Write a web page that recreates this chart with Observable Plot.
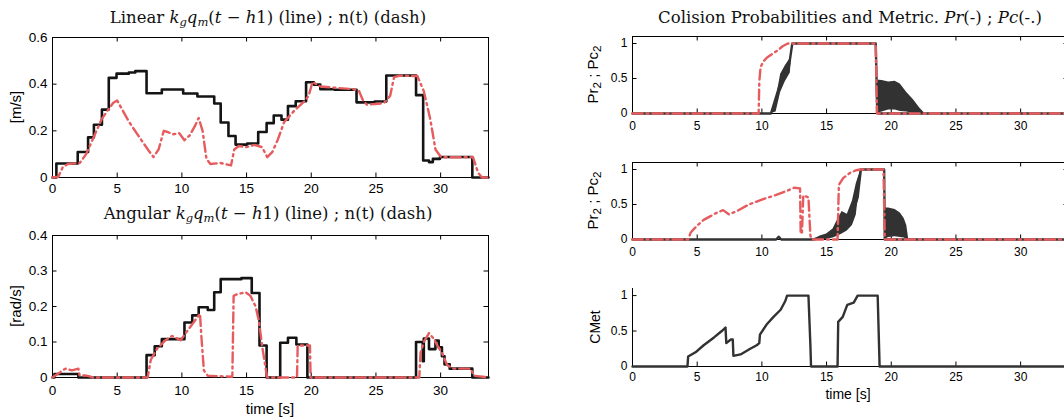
<!DOCTYPE html>
<html><head><meta charset="utf-8">
<script src="https://cdn.jsdelivr.net/npm/d3@7"></script>
<script src="https://cdn.jsdelivr.net/npm/@observablehq/plot@0.6"></script>
<style>
html,body{margin:0;padding:0;background:#fff;overflow:hidden;width:1064px;height:418px}
#root{position:relative;width:1064px;height:418px;overflow:hidden}
.p{position:absolute}
.title{position:absolute;font-family:"DejaVu Serif","Liberation Serif",serif;font-size:16.5px;white-space:nowrap;transform:translate(-50%,-50%);color:#111;line-height:1}
.title sub{font-size:11.5px;vertical-align:-3px}
</style></head><body><div id="root"></div>
<script>
// ---------- data (time [s], value) ----------
const xTicks = [0, 5, 10, 15, 20, 25, 30];
const linYTicks = [0, 0.2, 0.4, 0.6];
const angYTicks = [0, 0.1, 0.2, 0.3, 0.4];
const probYTicks = [0, 0.5, 1];

// Linear: k_g q_m(t-h1) (step, black) and n(t) (dash-dot, red)
const linCmd = [[0,0],[0.3,0.06],[1.95,0.109],[2.75,0.172],[3.2,0.226],[3.82,0.291],[4.35,0.427],[4.95,0.445],[5.9,0.45],[6.4,0.456],[7.27,0.361],[8.45,0.377],[10.1,0.36],[11.2,0.347],[12.5,0.317],[13.0,0.236],[13.6,0.178],[14.15,0.141],[15.05,0.146],[15.9,0.195],[16.55,0.233],[17.1,0.266],[17.7,0.248],[18.2,0.306],[18.8,0.327],[19.6,0.408],[20.2,0.398],[20.7,0.378],[21.8,0.376],[23.5,0.322],[24.9,0.326],[25.8,0.437],[28.1,0.353],[28.65,0.073],[29.1,0.066],[29.4,0.08],[29.95,0.088],[32.45,0],[33.7,0]];
const linN = [[0,0],[0.45,0.003],[0.8,0.045],[1.2,0.058],[2.1,0.062],[2.6,0.1],[3.0,0.15],[3.4,0.2],[3.8,0.25],[4.3,0.29],[4.7,0.32],[5.0,0.33],[5.4,0.29],[5.9,0.24],[6.5,0.19],[7.0,0.15],[7.5,0.11],[7.8,0.088],[8.2,0.12],[8.6,0.2],[8.9,0.195],[9.3,0.185],[9.8,0.19],[10.2,0.16],[10.6,0.18],[11.0,0.22],[11.3,0.255],[11.6,0.2],[11.9,0.08],[12.2,0.058],[13.0,0.062],[13.8,0.052],[14.05,0.12],[14.4,0.135],[15.0,0.13],[15.6,0.14],[16.2,0.13],[16.6,0.087],[17.0,0.11],[17.4,0.16],[17.9,0.237],[18.7,0.287],[19.4,0.323],[19.8,0.35],[20.1,0.41],[20.7,0.39],[23.3,0.378],[23.7,0.37],[24.0,0.33],[24.3,0.312],[25.6,0.318],[26.1,0.35],[26.4,0.43],[26.8,0.436],[28.2,0.435],[28.7,0.37],[29.2,0.25],[29.6,0.12],[30.0,0.09],[30.3,0.087],[32.5,0.087],[32.9,0.02],[33.2,0],[33.7,0]];

// Angular
const angCmd = [[0,0],[0.15,0.01],[2.0,0],[7.27,0.063],[7.9,0.088],[8.45,0.108],[10.2,0.155],[10.8,0.175],[11.3,0.198],[12.0,0.19],[12.5,0.24],[13.0,0.277],[14.2,0.277],[14.6,0.28],[15.4,0.238],[16.0,0.09],[16.55,0],[17.6,0.098],[18.2,0.112],[18.85,0.093],[19.7,0],[28.1,0.1],[28.62,0.046],[28.7,0.11],[29.1,0.08],[29.6,0.104],[29.85,0.085],[30.1,0.06],[30.3,0.037],[30.7,0.025],[32.45,0],[33.7,0]];
const angN = [[0,0],[0.3,0.008],[0.6,0.015],[1.0,0.025],[1.5,0.02],[2.0,0.025],[2.1,0.005],[2.5,0.006],[2.9,0.003],[3.1,0],[7.35,0],[7.6,0.05],[8.1,0.082],[8.74,0.105],[9.25,0.117],[9.9,0.105],[10.4,0.13],[10.8,0.15],[11.2,0.17],[11.4,0.18],[11.5,0.12],[11.7,0.02],[12.0,0.005],[13.9,0.002],[14.0,0.23],[14.3,0.235],[14.93,0.24],[15.3,0.23],[15.7,0.2],[15.95,0.16],[16.2,0.09],[16.5,0.02],[16.6,0],[18.9,0],[18.95,0.09],[19.9,0.09],[19.95,0],[28.35,0],[28.45,0.07],[28.7,0.1],[29.1,0.125],[29.45,0.11],[29.75,0.09],[30.1,0.07],[30.5,0.035],[31.0,0.025],[32.3,0.025],[32.6,0.005],[33.7,0]];

// Collision probabilities, obstacle A: Pc (red), Pr (black line + oscillation band lo/hi)
const topPc = [[0,0],[9.75,0],[9.8,0.45],[9.9,0.66],[10.1,0.74],[10.4,0.8],[10.8,0.85],[11.2,0.9],[11.6,0.96],[12.0,1],[18.8,1],[18.9,0],[33.7,0]];
const topPr = [[0,0],[10.7,0],[11.45,0.45],[12.1,0.68],[12.35,1],[18.8,1],[18.9,0.2],[19.0,0],[33.7,0]];
const topBandRise = [[10.7,0,0],[11.1,0.02,0.2],[11.45,0.3,0.56],[11.8,0.45,0.68],[12.2,0.58,0.79],[12.35,1,1]];
const topBandFall = [[18.85,0,0.48],[19.3,0.02,0.47],[19.8,0.05,0.45],[20.3,0.05,0.46],[20.7,0.03,0.42],[21.2,0.02,0.3],[21.7,0,0.2],[22.2,0,0.08],[22.6,0,0]];

// obstacle B
const midPc = [[0,0],[4.3,0],[4.5,0.1],[5.0,0.2],[5.5,0.28],[6.0,0.33],[6.5,0.38],[7.0,0.42],[7.45,0.36],[8.0,0.4],[9.0,0.5],[10.0,0.57],[11.0,0.63],[12.0,0.7],[12.5,0.74],[12.95,0.73],[13.0,0.08],[13.1,0.1],[13.2,0.63],[13.6,0.6],[13.75,0.05],[13.9,0],[15.85,0],[15.95,0.78],[16.3,0.88],[16.8,0.95],[17.3,0.99],[17.6,1],[19.4,1],[19.5,0],[33.7,0]];
const midPr = [[0,0],[11.1,0],[11.3,0.04],[11.5,0],[14.0,0],[14.5,0.03],[15.3,0.05],[16.0,0.15],[16.3,0.25],[16.6,0.22],[17.0,0.35],[17.4,0.6],[17.65,1],[19.45,1],[19.5,0],[33.7,0]];
const midBandRise = [[14.0,0,0],[14.5,0,0.05],[15.0,0,0.08],[15.5,0.02,0.15],[15.9,0.05,0.3],[16.2,0.08,0.4],[16.6,0.12,0.36],[17.0,0.2,0.55],[17.3,0.35,0.8],[17.65,0.95,1]];
const midBandFall = [[19.5,0,0.45],[19.8,0.03,0.45],[20.3,0.04,0.43],[20.7,0.03,0.38],[21.0,0.02,0.3],[21.2,0,0.2],[21.35,0,0]];

// Collision metric
const cmet = [[0,0],[4.25,0],[4.3,0.14],[4.87,0.2],[5.5,0.3],[6.3,0.41],[6.9,0.5],[7.19,0.55],[7.25,0.33],[7.6,0.38],[7.75,0.38],[7.8,0.15],[8.35,0.17],[9.1,0.25],[9.6,0.3],[9.8,0.33],[9.85,0.45],[10.4,0.6],[10.9,0.7],[11.45,0.8],[11.8,0.92],[11.95,1],[13.6,1],[13.75,0.3],[13.8,0],[15.85,0],[15.9,0.63],[16.25,0.7],[16.6,0.87],[17.1,0.9],[17.4,1],[18.95,1],[19.1,0],[33.7,0]];

// ---------- drawing ----------
const RED = "#e65c5e";
const BLK = "#141414";
const GRY = "#323232";
const X = d => d[0], Y = d => d[1];
const fmt = d => String(+(+d).toFixed(2));
const root = document.getElementById("root");

function panel(o) {
  const innerH = o.height - o.mt - o.mb;
  const innerW = o.width - o.ml - o.mr;
  const T = 4.5;
  const marks = [];
  if (o.box) {
    marks.push(Plot.frame({stroke: "#000", strokeWidth: 1}));
    marks.push(Plot.tickX(xTicks, {x: d => d, insetBottom: innerH - T, stroke: "#000"}));
    marks.push(Plot.tickY(o.yTicks, {y: d => d, insetLeft: innerW - T, stroke: "#000"}));
  } else {
    marks.push(Plot.ruleX([0], {stroke: "#000"}));
    marks.push(Plot.ruleY([0], {stroke: "#000"}));
  }
  marks.push(Plot.tickX(xTicks, {x: d => d, insetTop: innerH - T, stroke: "#000"}));
  marks.push(Plot.tickY(o.yTicks, {y: d => d, insetRight: innerW - T, stroke: "#000"}));
  marks.push(...o.marks);
  marks.push(Plot.axisX({ticks: xTicks, tickSize: 0, tickPadding: o.xPad, tickFormat: fmt, label: null, fontSize: o.fs}));
  marks.push(Plot.axisY({ticks: o.yTicks, tickSize: 0, tickPadding: 5, tickFormat: fmt, label: null, fontSize: o.fs}));
  const svg = Plot.plot({
    width: o.width, height: o.height,
    marginLeft: o.ml, marginRight: o.mr, marginTop: o.mt, marginBottom: o.mb,
    x: {domain: [0, 33.7]},
    y: {domain: o.yDomain},
    style: {fontFamily: "'Liberation Sans', Arial, sans-serif", fontSize: o.fs + "px", color: "#000", background: "transparent", overflow: "visible"},
    marks
  });
  svg.classList.add("p");
  svg.style.left = o.left + "px";
  svg.style.top = o.top + "px";
  const s = d3.select(svg);
  if (o.ylabel) {
    const t = s.append("text")
      .attr("transform", `translate(${o.ylx},${o.mt + innerH / 2}) rotate(-90)`)
      .attr("text-anchor", "middle").attr("dominant-baseline", "central")
      .attr("font-size", o.lfs).attr("fill", "#000");
    for (const part of o.ylabel) {
      const ts = t.append("tspan").text(part.t);
      if (part.sub) ts.attr("font-size", o.lfs * 0.78).attr("dy", "0.35em");
      if (part.up) ts.attr("dy", "-0.3em");
    }
  }
  if (o.xlabel) {
    s.append("text").attr("x", o.ml + innerW / 2 + (o.xlDx || 0)).attr("y", o.xly)
      .attr("text-anchor", "middle").attr("dominant-baseline", "central")
      .attr("font-size", o.lfs).attr("fill", "#000").text(o.xlabel);
  }
  root.appendChild(svg);
}

const redLine = (data) => Plot.line(data, {x: X, y: Y, stroke: RED, strokeWidth: 2.4, strokeDasharray: "10,4,2,4", curve: "linear"});
const blkStep = (data) => Plot.line(data, {x: X, y: Y, stroke: BLK, strokeWidth: 2.6, curve: "step-after"});
const band = (data) => Plot.areaY(data, {x: X, y1: d => d[1], y2: d => d[2], fill: GRY, curve: "linear"});
const grLine = (data, w) => Plot.line(data, {x: X, y: Y, stroke: GRY, strokeWidth: w || 2, curve: "linear"});

// Left top: Linear
panel({left: 0, top: 0, width: 500, height: 200, ml: 52, mr: 12, mt: 37, mb: 23,
  yDomain: [0, 0.6], yTicks: linYTicks, box: true, fs: 13.5, xPad: 6,
  ylabel: [{t: "[m/s]"}], ylx: 15, lfs: 15,
  marks: [blkStep(linCmd), redLine(linN)]});

// Left bottom: Angular
panel({left: 0, top: 200, width: 500, height: 218, ml: 52, mr: 12, mt: 35, mb: 41,
  yDomain: [0, 0.4], yTicks: angYTicks, box: true, fs: 13.5, xPad: 8,
  ylabel: [{t: "[rad/s]"}], ylx: 15, lfs: 15, xlabel: "time [s]", xly: 208,
  marks: [blkStep(angCmd), redLine(angN)]});

// Right top
panel({left: 560, top: 0, width: 520, height: 135, ml: 72, mr: 12, mt: 36, mb: 22,
  yDomain: [0, 1.1], yTicks: probYTicks, box: true, fs: 12, xPad: 8,
  ylabel: [{t: "Pr"}, {t: "2", sub: true}, {t: " ; Pc", up: true}, {t: "2", sub: true}], ylx: 32, lfs: 15,
  marks: [band(topBandRise), band(topBandFall), grLine(topPr, 2.4), redLine(topPc)]});

// Right middle
panel({left: 560, top: 140, width: 520, height: 130, ml: 72, mr: 12, mt: 22, mb: 31,
  yDomain: [0, 1.1], yTicks: probYTicks, box: true, fs: 12, xPad: 8,
  ylabel: [{t: "Pr"}, {t: "2", sub: true}, {t: " ; Pc", up: true}, {t: "2", sub: true}], ylx: 32, lfs: 15,
  marks: [band(midBandRise), band(midBandFall), grLine(midPr, 2.4), redLine(midPc)]});

// Right bottom: CMet
panel({left: 560, top: 270, width: 520, height: 148, ml: 72, mr: 12, mt: 18, mb: 52,
  yDomain: [0, 1.1], yTicks: probYTicks, box: false, fs: 12, xPad: 6,
  ylabel: [{t: "CMet"}], ylx: 35, lfs: 14, xlabel: "time [s]", xly: 124, xlDx: -2,
  marks: [grLine(cmet, 2.4)]});

// Titles
function title(x, y, html) {
  const d = document.createElement("div");
  d.className = "title";
  d.style.left = x + "px"; d.style.top = y + "px";
  d.innerHTML = html;
  root.appendChild(d);
}
title(268, 19, 'Linear <i>k<sub>g</sub>q<sub>m</sub></i>(<i>t</i> − <i>h</i>1) (line) ; n(t) (dash)');
title(268, 215, 'Angular <i>k<sub>g</sub>q<sub>m</sub></i>(<i>t</i> − <i>h</i>1) (line) ; n(t) (dash)');
title(850, 18, 'Colision Probabilities and Metric. <i>Pr</i>(-) ; <i>Pc</i>(-.)');
</script></body></html>
